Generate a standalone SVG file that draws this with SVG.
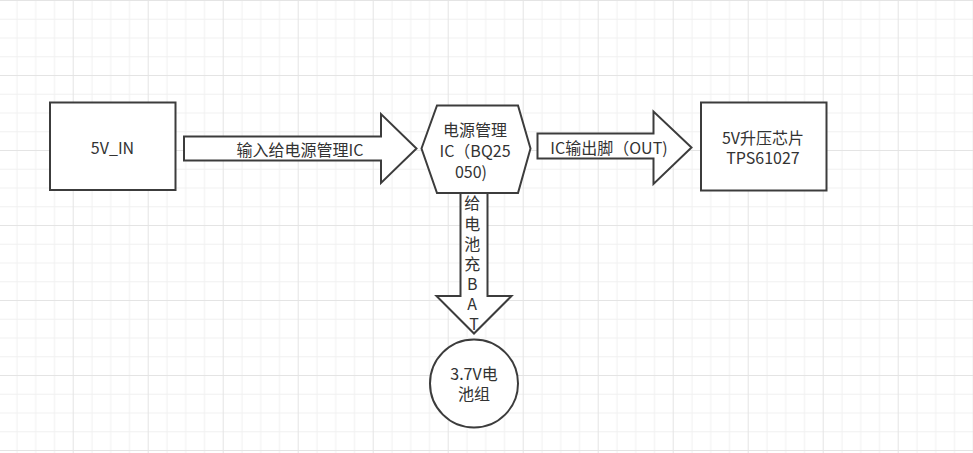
<svg xmlns="http://www.w3.org/2000/svg" width="973" height="453" viewBox="0 0 973 453">
<style>
  .shape { fill: #ffffff; stroke: #3c3c3c; stroke-width: 2; }
  .lbl { font-family: "Noto Sans CJK SC", "Noto Sans", sans-serif; font-size: 16px; fill: #333333; text-anchor: middle; }
</style>
<defs>
  <pattern id="grid" x="-2.3" y="0" width="75" height="75" patternUnits="userSpaceOnUse">
    <rect x="0" y="0" width="75" height="75" fill="#ffffff"/>
    <g fill="#f1f1f1">
      <rect x="18.75" y="0" width="1" height="75"/>
      <rect x="37.5" y="0" width="1" height="75"/>
      <rect x="56.25" y="0" width="1" height="75"/>
      <rect x="0" y="18.75" width="75" height="1"/>
      <rect x="0" y="37.5" width="75" height="1"/>
      <rect x="0" y="56.25" width="75" height="1"/>
    </g>
    <g fill="#e4e4e4">
      <rect x="0" y="0" width="1" height="75"/>
      <rect x="0" y="0" width="75" height="1"/>
    </g>
  </pattern>
</defs>
<rect x="0" y="0" width="973" height="453" fill="url(#grid)"/>

<g id="connectors">
  <g id="edge-in-to-ic">
    <polygon class="shape" points="184,136.5 381,136.5 381,114 416.5,148.5 381,183 381,160.5 184,160.5"/>
    <text class="lbl" x="300" y="155.5">输入给电源管理IC</text>
  </g>
  <g id="edge-ic-to-boost">
    <polygon class="shape" points="537.5,133.5 653.5,133.5 653.5,111.5 691.5,147.5 653.5,184 653.5,158.5 537.5,158.5"/>
    <text class="lbl" x="609" y="154">IC输出脚（OUT)</text>
  </g>
  <g id="edge-ic-to-bat">
    <polygon class="shape" points="460.5,190 487.5,190 487.5,296 511.5,296 474,333.5 436.5,296 460.5,296"/>
    <text class="lbl" x="474">
      <tspan x="474" y="209">给</tspan>
      <tspan x="474" y="229.5">电</tspan>
      <tspan x="474" y="250">池</tspan>
      <tspan x="474" y="270">充</tspan>
      <tspan x="474" y="289.5">B</tspan>
      <tspan x="474" y="310">A</tspan>
      <tspan x="474" y="330">T</tspan>
    </text>
  </g>
</g>

<g id="node-5v-in">
  <rect class="shape" x="50" y="102.5" width="125.5" height="87.5"/>
  <text class="lbl" x="112.5" y="153.5">5V_IN</text>
</g>

<g id="node-ic">
  <polygon class="shape" points="421.5,148.5 437,105.5 518,105.5 530.5,148.5 518,193 437,193"/>
  <text class="lbl" x="475" y="135.5">电源管理</text>
  <text class="lbl" x="475" y="157">IC（BQ25</text>
  <text class="lbl" x="471" y="178">050)</text>
</g>

<g id="node-boost">
  <rect class="shape" x="701" y="102.5" width="125.5" height="88"/>
  <text class="lbl" x="763" y="144">5V升压芯片</text>
  <text class="lbl" x="763" y="163.5">TPS61027</text>
</g>

<g id="node-battery">
  <circle class="shape" cx="474" cy="383.5" r="44"/>
  <text class="lbl" x="474" y="380">3.7V电</text>
  <text class="lbl" x="474" y="399.5">池组</text>
</g>
</svg>
